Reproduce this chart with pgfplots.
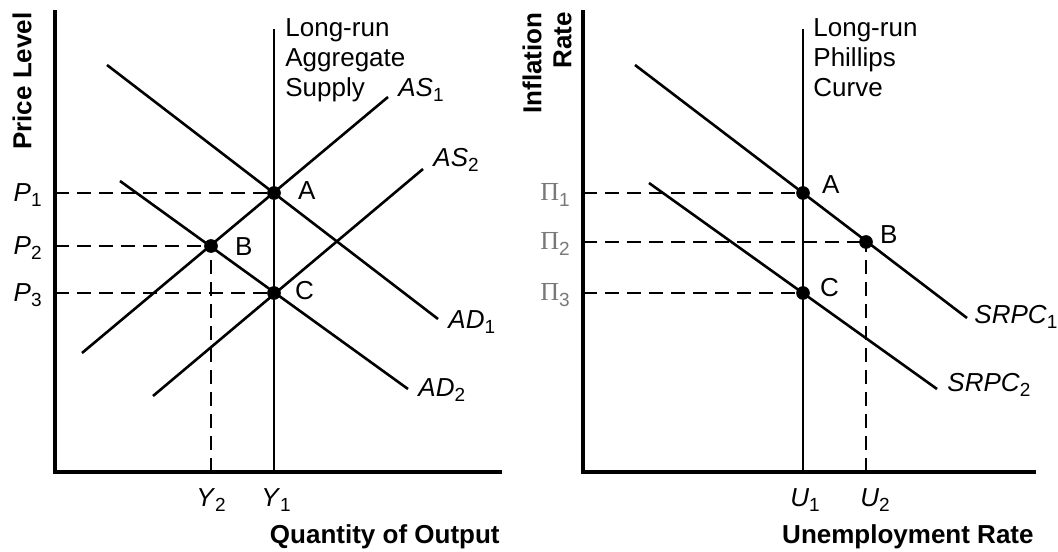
\documentclass[border=0pt]{standalone}
\usepackage{fontspec}
\setmainfont{Liberation Sans}
\newfontfamily\greekserif{Liberation Serif}
\usepackage{pgfplots}
\pgfplotsset{compat=1.18}
\newcommand\sub[1]{\raisebox{-2.6pt}{\fontsize{9.5}{9.5}\selectfont #1}}
\definecolor{pigray}{RGB}{120,120,120}
\pgfplotsset{econ/.style={
  x=0.5pt, y=0.5pt, xmin=0, ymin=0, ymax=460,
  axis lines=left, axis line style={line width=1.9pt, -, line cap=rect},
  ticks=none, clip=false, anchor=south west,
}}
\tikzset{crv/.style={line width=1.3pt, black, mark=none, solid},
         dsh/.style={line width=1.35pt, black, mark=none, dash pattern=on 7pt off 4pt}}

\begin{document}
\begin{tikzpicture}[font=\fontsize{13}{15}\selectfont]
\useasboundingbox (0,0) rectangle (529pt,275.5pt);

% ---------------- Left panel: AD-AS ----------------
\begin{axis}[econ, xmax=445, at={(27.5pt,39.5pt)}]
  % long-run aggregate supply
  \addplot[crv] coordinates {(219,0) (219,443)};
  % AD1, AD2
  \addplot[crv] coordinates {(52,407) (383,153)};
  \addplot[crv] coordinates {(65,291) (353,83)};
  % AS1, AS2
  \addplot[crv] coordinates {(27,119) (333,375)};
  \addplot[crv] coordinates {(98,76) (368,303)};
  % dashed guides
  \addplot[dsh] coordinates {(0,279) (219,279)};
  \addplot[dsh] coordinates {(0,226) (156,226)};
  \addplot[dsh] coordinates {(0,179) (219,179)};
  \addplot[dsh] coordinates {(156,0) (156,226)};
  % equilibrium points
  \addplot[only marks, black, mark=*, mark size=3.2pt] coordinates {(219,279) (156,226) (219,179)};

  \node[anchor=west] at (236,281) {A};
  \node[anchor=west] at (173,225) {B};
  \node[anchor=west] at (233,181) {C};

  \node[anchor=north west, align=left, inner sep=0pt] at (230,454) {Long-run\\Aggregate\\Supply};
  \node[anchor=west, inner sep=0pt] at (343,382) {\textit{AS}\sub{1}};
  \node[anchor=west, inner sep=0pt] at (378,312) {\textit{AS}\sub{2}};
  \node[anchor=west, inner sep=0pt] at (393,150) {\textit{AD}\sub{1}};
  \node[anchor=west, inner sep=0pt] at (363,82) {\textit{AD}\sub{2}};

  \node[anchor=east, inner sep=0pt] at (-13,277) {\textit{P}\sub{1}};
  \node[anchor=east, inner sep=0pt] at (-13,224) {\textit{P}\sub{2}};
  \node[anchor=east, inner sep=0pt] at (-13,177) {\textit{P}\sub{3}};

  \node[anchor=north, inner sep=0pt] at (156,-16) {\textit{Y}\sub{2}};
  \node[anchor=north, inner sep=0pt] at (221,-16) {\textit{Y}\sub{1}};

  \node[anchor=east, inner sep=0pt] at (445,-65) {\textbf{Quantity of Output}};
  \node[rotate=90, anchor=east, inner sep=0pt] at (-33,460) {\textbf{Price Level}};
\end{axis}

% ---------------- Right panel: Phillips curve ----------------
\begin{axis}[econ, xmax=451, at={(291.5pt,39.5pt)}]
  % long-run Phillips curve
  \addplot[crv] coordinates {(220,0) (220,443)};
  % SRPC1, SRPC2
  \addplot[crv] coordinates {(52,407) (384,154)};
  \addplot[crv] coordinates {(66,289) (354,83)};
  % dashed guides
  \addplot[dsh] coordinates {(0,279) (220,279)};
  \addplot[dsh] coordinates {(0,230) (283,230)};
  \addplot[dsh] coordinates {(0,179) (220,179)};
  \addplot[dsh] coordinates {(283,0) (283,230)};
  % points
  \addplot[only marks, black, mark=*, mark size=3.2pt] coordinates {(220,279) (283,230) (220,179)};

  \node[anchor=west] at (232,287) {A};
  \node[anchor=west] at (290,237) {B};
  \node[anchor=west] at (230,184) {C};

  \node[anchor=north west, align=left, inner sep=0pt] at (230,454) {Long-run\\Phillips\\Curve};
  \node[anchor=west, inner sep=0pt] at (391,155) {\textit{SRPC}\sub{1}};
  \node[anchor=west, inner sep=0pt] at (364,87) {\textit{SRPC}\sub{2}};

  \node[anchor=east, inner sep=0pt, text=pigray] at (-13,277) {{\greekserif Π}\sub{1}};
  \node[anchor=east, inner sep=0pt, text=pigray] at (-13,228) {{\greekserif Π}\sub{2}};
  \node[anchor=east, inner sep=0pt, text=pigray] at (-13,177) {{\greekserif Π}\sub{3}};

  \node[anchor=north, inner sep=0pt] at (222,-16) {\textit{U}\sub{1}};
  \node[anchor=north, inner sep=0pt] at (292,-16) {\textit{U}\sub{2}};

  \node[anchor=east, inner sep=0pt] at (451,-65) {\textbf{Unemployment Rate}};
  \node[rotate=90, anchor=east, align=right, inner sep=0pt] at (-36,460) {\textbf{Inflation}\\\textbf{Rate}};
\end{axis}
\end{tikzpicture}
\end{document}
